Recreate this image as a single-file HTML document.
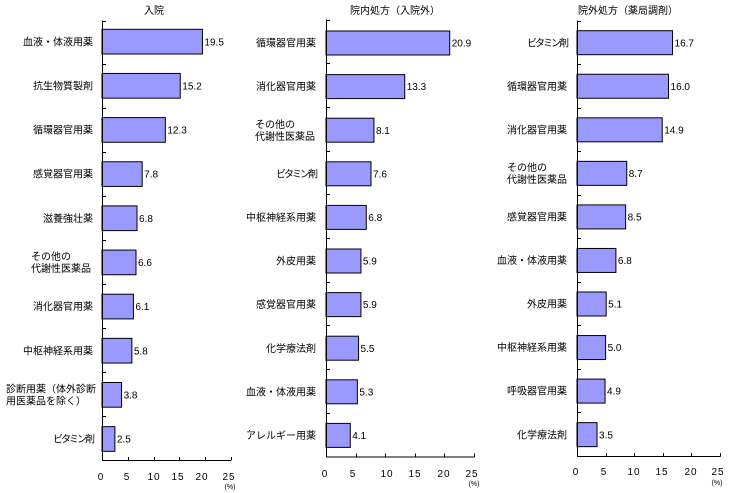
<!DOCTYPE html>
<html><head><meta charset="utf-8"><style>
html,body{margin:0;padding:0;background:#fff;}
svg{display:block;}
.j{font-family:"Liberation Sans","Noto Sans CJK JP",sans-serif;font-size:10px;fill:#000;}
.n{font-family:"Liberation Sans",sans-serif;font-size:10px;fill:#000;}
.t{font-family:"Liberation Sans",sans-serif;font-size:10px;fill:#000;letter-spacing:1px;}
.p{font-family:"Liberation Sans",sans-serif;font-size:7px;fill:#000;}
.b{fill:#9999FF;stroke:#000;stroke-width:1;}
</style></head><body>
<svg width="729" height="493" viewBox="0 0 729 493" xmlns="http://www.w3.org/2000/svg">
<rect width="729" height="493" fill="#fff"/>
<g id="c1"></g><g id="c2"></g><g id="c3"></g>
</svg>
<script>
const NS="http://www.w3.org/2000/svg";
function el(p,tag,attrs,txt){const e=document.createElementNS(NS,tag);for(const k in attrs)e.setAttribute(k,attrs[k]);if(txt!==undefined)e.textContent=txt;p.appendChild(e);return e;}
function chart(id,cfg){
  const g=document.getElementById(id);
  const {x0,sc,top,bot,xend,bt,bp,bh,lr,title,tx,data,tly,tlx,pct,py}=cfg;
  el(g,'text',{x:tx,y:14,'text-anchor':'middle',class:'j'},title);
  data.forEach((d,i)=>{
    const y=bt+bp*i, w=d[1]*sc, cy=y+bh/2;
    el(g,'rect',{x:x0,y:y,width:w,height:bh,class:'b'});
    el(g,'text',{x:x0+w+2,y:cy+3.6,class:'n'},d[1].toFixed(1));
    if(d[0].length===2){
      el(g,'text',{x:d[2],y:cy-6+3.6,class:'j'},d[0][0]);
      el(g,'text',{x:d[2],y:cy+6+3.6,class:'j'},d[0][1]);
    } else {
      const a={x:lr,y:cy+3.6,'text-anchor':'end',class:'j'};
      if(d[3]) a.style='letter-spacing:'+d[3]+'px';
      el(g,'text',a,d[0]);
    }
  });
  // axes
  el(g,'line',{x1:x0+0.5,y1:top,x2:x0+0.5,y2:bot+0.5,stroke:'#000','stroke-width':1});
  el(g,'line',{x1:x0,y1:bot+0.5,x2:xend,y2:bot+0.5,stroke:'#000','stroke-width':1});
  const pitch=(bot-top)/10;
  for(let k=0;k<10;k++){const yy=Math.round(top+pitch*k)+0.5;el(g,'line',{x1:x0,y1:yy,x2:x0+4,y2:yy,stroke:'#000','stroke-width':1});}
  for(let k=1;k<=5;k++){const xx=Math.round(x0+sc*5*k)+0.5;el(g,'line',{x1:xx,y1:bot-3,x2:xx,y2:bot+0.5,stroke:'#000','stroke-width':1});}
  const labs=['0','5','10','15','20','25'];
  labs.forEach((l,k)=>{el(g,'text',{x:tlx[k],y:tly,'text-anchor':'middle',class:'t'},l);});
  el(g,'text',{x:pct,y:py,'text-anchor':'middle',class:'p'},'(%)');
}
chart('c1',{x0:102,sc:5.15,top:20.5,bot:460,xend:231,bt:29.3,bp:44.15,bh:24.7,lr:93,title:'入院',tx:154,
 data:[['血液・体液用薬',19.5],['抗生物質製剤',15.2],['循環器官用薬',12.3],['感覚器官用薬',7.8],['滋養強壮薬',6.8],[['その他の','代謝性医薬品'],6.6,31],['消化器官用薬',6.1],['中枢神経系用薬',5.8],[['診断用薬（体外診断','用医薬品を除く）'],3.8,6],['ビタミン剤',2.5,0,-2]],
 tly:480,tlx:[101,127,154,178,202,229],pct:230,py:489});
chart('c2',{x0:326,sc:5.92,top:19.5,bot:456.5,xend:474.5,bt:31,bp:43.6,bh:24,lr:316,title:'院内処方（入院外）',tx:395,
 data:[['循環器官用薬',20.9],['消化器官用薬',13.3],[['その他の','代謝性医薬品'],8.1,255],['ビタミン剤',7.6,0,-2],['中枢神経系用薬',6.8],['外皮用薬',5.9],['感覚器官用薬',5.9],['化学療法剤',5.5],['血液・体液用薬',5.3],['アレルギー用薬',4.1]],
 tly:477,tlx:[325,353,387,415,444,472],pct:474,py:486});
chart('c3',{x0:577,sc:5.72,top:20.5,bot:456,xend:720.5,bt:30.7,bp:43.55,bh:24,lr:567,title:'院外処方（薬局調剤）',tx:628,
 data:[['ビタミン剤',16.7,0,-2],['循環器官用薬',16.0],['消化器官用薬',14.9],[['その他の','代謝性医薬品'],8.7,507],['感覚器官用薬',8.5],['血液・体液用薬',6.8],['外皮用薬',5.1],['中枢神経系用薬',5.0],['呼吸器官用薬',4.9],['化学療法剤',3.5]],
 tly:475,tlx:[576,604,634,662,691,718],pct:717,py:485});
el(document.querySelector('svg'),'rect',{x:249,y:430,width:1,height:1,fill:'#000'});
</script>
</body></html>
